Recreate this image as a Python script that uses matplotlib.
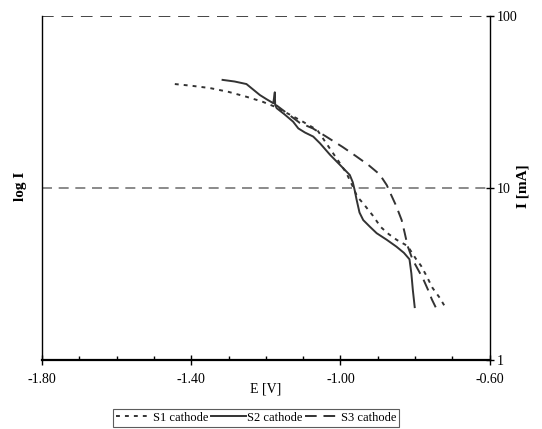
import matplotlib
matplotlib.use("Agg")
import matplotlib.pyplot as plt
from matplotlib.ticker import MultipleLocator, FixedLocator, NullLocator

# Data (E [V], I [mA])
s1_E = [-1.444, -1.400, -1.350, -1.300, -1.252, -1.210, -1.176, -1.140, -1.101,
        -1.062, -1.028, -1.006, -0.984, -0.967, -0.955, -0.940, -0.913, -0.892,
        -0.871, -0.849, -0.820, -0.798, -0.784, -0.771, -0.753, -0.734, -0.718]
s1_I = [40.2, 39.3, 38.1, 36.2, 33.9, 31.8, 29.7, 27.0, 24.3,
        21.7, 16.9, 14.4, 12.2, 10.2, 8.9, 8.18, 6.9, 5.93,
        5.4, 4.99, 4.6, 3.88, 3.53, 3.13, 2.62, 2.30, 2.01]

s2_E = [-1.316, -1.284, -1.252, -1.235, -1.216, -1.198, -1.180, -1.176, -1.175,
        -1.171, -1.150, -1.127, -1.113, -1.095, -1.073, -1.055, -1.028, -1.001,
        -0.975, -0.967, -0.962, -0.957, -0.949, -0.939, -0.921, -0.903, -0.876,
        -0.850, -0.830, -0.815, -0.810, -0.806, -0.801]
s2_I = [42.5, 41.6, 40.2, 37.5, 34.7, 32.8, 31.1, 36.0, 30.4,
        29.1, 26.8, 24.3, 22.2, 21.0, 19.9, 18.2, 15.6, 13.6,
        11.9, 10.8, 9.73, 8.6, 7.2, 6.51, 5.95, 5.46, 5.0,
        4.56, 4.2, 3.85, 3.19, 2.55, 2.03]

s3_E = [-1.173, -1.109, -1.074, -1.040, -0.994, -0.960, -0.925, -0.895, -0.876,
        -0.864, -0.851, -0.836, -0.828, -0.820, -0.807, -0.792, -0.778, -0.765,
        -0.755, -0.744]
s3_I = [30.4, 23.9, 22.2, 20.0, 17.3, 15.4, 13.6, 12.0, 10.4,
        9.1, 7.9, 6.51, 5.5, 4.6, 3.85, 3.35, 2.95, 2.55,
        2.25, 2.01]

labels = ["S1 cathode", "S2 cathode", "S3 cathode"]
x_major = [-1.80, -1.40, -1.00, -0.60]
y_ticks = [1, 10, 100]

plt.rcParams['font.family'] = ['Liberation Serif', 'DejaVu Serif']

fig = plt.figure(figsize=(5.42, 4.29), dpi=100)
ax = fig.add_axes([0.0775, 0.1608, 0.826, 0.802])

col = '#333333'
l1, = ax.plot(s1_E, s1_I, color=col, lw=1.4, dashes=(2, 2.6), label=labels[0])
l2, = ax.plot(s2_E, s2_I, color=col, lw=1.4, label=labels[1])
l3, = ax.plot(s3_E, s3_I, color=col, lw=1.4, dashes=(6, 3.5), label=labels[2])

ax.set_yscale('log')
ax.set_xlim(-1.8, -0.6)
ax.set_ylim(1, 100)

# gridlines
ax.axhline(10, color='#777777', lw=1.2, dashes=(6, 4), zorder=0)
ax.axhline(100, color='#444444', lw=1.4, dashes=(6, 4), zorder=0)

ax.yaxis.tick_right()
ax.yaxis.set_label_position('right')
ax.yaxis.set_major_locator(FixedLocator(y_ticks))
ax.yaxis.set_minor_locator(NullLocator())
ax.set_yticklabels([str(v) for v in y_ticks])
ax.tick_params(axis='y', which='major', direction='inout', length=6, width=1,
               labelsize=10, pad=2)

ax.xaxis.set_major_locator(FixedLocator(x_major))
ax.xaxis.set_minor_locator(MultipleLocator(0.1))
ax.set_xticklabels([f"{v:.2f}" for v in x_major])
ax.tick_params(axis='x', which='major', direction='inout', length=7, width=1,
               labelsize=10, pad=6)
ax.tick_params(axis='x', which='minor', direction='in', length=3, width=1)

ax.spines['top'].set_visible(False)
ax.spines['bottom'].set_linewidth(1.6)
ax.spines['left'].set_linewidth(1.0)
ax.spines['right'].set_linewidth(1.0)

ax.set_xlabel('E [V]', fontsize=10, labelpad=-3)
fig.text(0.965, 0.565, 'I [mA]', rotation=90, fontsize=11, fontweight='bold',
         ha='center', va='center')
fig.text(0.038, 0.565, 'log I', rotation=90, fontsize=11, fontweight='bold',
         ha='center', va='center')

leg = fig.legend(handles=[l1, l2, l3], loc='center', bbox_to_anchor=(0.473, 0.026),
                 ncol=3, fontsize=9, frameon=True, fancybox=False,
                 handlelength=2.8, handletextpad=0.1, columnspacing=0.2,
                 borderpad=0.25, edgecolor='#333333')
leg.get_frame().set_linewidth(0.8)

fig.savefig('out.png', dpi=100)
